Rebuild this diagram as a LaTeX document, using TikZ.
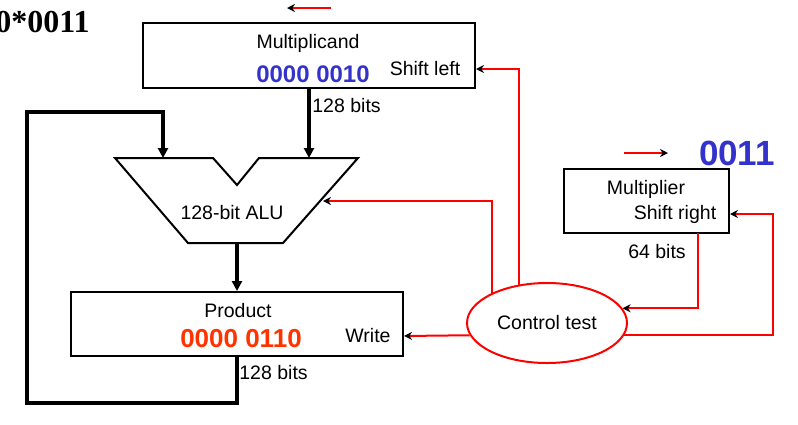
\documentclass[tikz,border=0pt]{standalone}
\usepackage{fontspec}
\setmainfont{Liberation Sans}
\newfontfamily\titlefont{Liberation Serif}
\usetikzlibrary{arrows.meta,shapes.geometric}
\definecolor{valblue}{RGB}{51,51,204}
\definecolor{valred}{RGB}{255,51,0}
\definecolor{ctrlred}{RGB}{255,0,0}

\begin{document}
\begin{tikzpicture}[x=0.5pt, y=-0.5pt,
    reg/.style={draw, line width=1pt, inner sep=0pt},
    lbl/.style={inner sep=0pt, font=\fontsize{9.75}{11}\selectfont},
    val/.style={inner sep=0pt, font=\fontsize{#1}{#1}\selectfont\bfseries},
    bus/.style={line width=1.6pt, -{Triangle[length=5pt, width=5pt]}},
    ctrl/.style={ctrlred, line width=1pt, -{Stealth[black, length=4pt, width=4pt]}},
]
    \useasboundingbox (0, 0) rectangle (798, 424);

    %% Datapath

    % Title
    \node [anchor=east, inner sep=0pt, font=\titlefont\fontsize{16}{16}\selectfont\bfseries] (title) at (90, 22) {0*0011};

    % Multiplicand
    \node [reg, minimum width=166pt, minimum height=32.5pt] (mcand) at (309, 55.5) {};
    \node [lbl] (mcand name) at (308, 43) {Multiplicand};
    \node [val=12, text=valblue] (mcand val) at (313, 74) {0000 0010};
    \node [lbl] (mcand op) at (425, 69) {Shift left};
    \node [lbl, anchor=west] (mcand bits) at (312, 106) {128 bits};

    % ALU
    \coordinate (alu in1) at (163, 158);
    \coordinate (alu in2) at (309, 158);
    \coordinate (alu out) at (237, 243);
    \draw [line width=1pt] (115, 158) -- (213, 158) -- (237, 185) -- (259, 158) -- (358, 158)
        -- (283, 243) -- (188, 243) -- cycle;
    \node [lbl] (alu name) at (232, 213) {128-bit ALU};

    % Product
    \node [reg, minimum width=166pt, minimum height=32pt] (prod) at (237, 324) {};
    \node [lbl] (prod name) at (238, 311) {Product};
    \node [val=13, text=valred] (prod val) at (241, 339) {0000 0110};
    \node [lbl] (prod op) at (368, 336) {Write};
    \node [lbl, anchor=west] (prod bits) at (239, 373) {128 bits};

    % Multiplier
    \node [reg, minimum width=82.5pt, minimum height=32pt] (mult) at (646.5, 201) {};
    \node [lbl] (mult name) at (646, 189) {Multiplier};
    \node [lbl] (mult op) at (675, 214) {Shift right};
    \node [lbl] (mult bits) at (657, 252) {64 bits};
    \node [val=17.5, text=valblue] (mult val) at (737, 153) {0011};

    % Control
    \node [ellipse, draw=ctrlred, line width=1pt, minimum width=80pt, minimum height=40pt, inner sep=0pt,
        font=\fontsize{9.75}{11}\selectfont] (ctrl) at (547, 323) {Control test};

    % Buses
    \draw [bus] (mcand.south -| alu in2) -- (alu in2);
    \draw [bus] (alu out) -- (prod.north);
    \draw [bus] (prod.south) -- (237, 403) -- (27, 403) -- (27, 112) -- (163, 112) -- (alu in1);

    % Control lines
    \coordinate (mcand in) at (476, 69);
    \coordinate (alu ctrl) at (323, 201);
    \coordinate (prod in) at (404, 336);
    \coordinate (mult in) at (730, 214);
    \coordinate (mult out) at (698, 233);
    \draw [ctrl] (ctrl.126) |- (mcand in);
    \draw [ctrl] (ctrl.151) |- (alu ctrl);
    \draw [ctrl] (ctrl.189) -- (prod in);
    \draw [ctrl] (mult out) |- (ctrl.11);
    \draw [ctrl] (ctrl.-9) -| (773, 214) -- (mult in);

    % Shift directions
    \coordinate (shl from) at (331, 8);
    \coordinate (shl to) at (287, 8);
    \coordinate (shr from) at (624, 153);
    \coordinate (shr to) at (668, 153);
    \draw [ctrl] (shl from) -- (shl to);
    \draw [ctrl] (shr from) -- (shr to);

\end{tikzpicture}
\end{document}
